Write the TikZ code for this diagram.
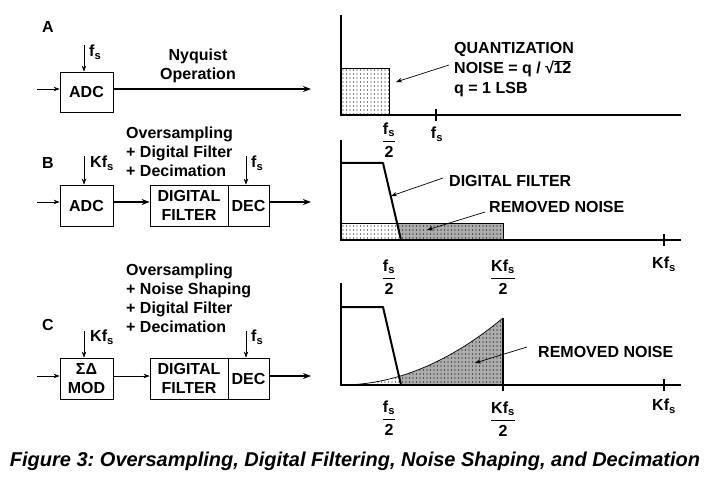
\documentclass[tikz,border=0pt]{standalone}
\usepackage{fontspec}
\setmainfont{Liberation Sans}
\usetikzlibrary{arrows.meta,patterns}
\frenchspacing
\pgfdeclarepatternformonly{sparsedots}{\pgfqpoint{-1pt}{-1pt}}{\pgfqpoint{1pt}{1pt}}{\pgfqpoint{3.5pt}{4pt}}{\pgfpathcircle{\pgfpointorigin}{0.55pt}\pgfusepath{fill}}
\newcommand\frc[2]{$\displaystyle{\hbox{#1}\above1.3pt\hbox{#2}}$}
\newcommand\fsub{f\textsubscript{s}}
\newcommand\Kfsub{Kf\textsubscript{s}}
\newcommand\rtwelve{\setbox0\hbox{√}\setbox2\hbox{12}\copy0\kern-0.6pt\rlap{\rule[\dimexpr\ht0-0.9pt]{\wd2}{0.9pt}}\box2}
\tikzset{
  lbl/.style={font=\fontsize{16}{19}\selectfont\bfseries, inner sep=0pt},
  blk/.style={draw, line width=0.8pt, lbl, align=center},
  thinarr/.style={line width=0.7pt, -{Stealth[length=6pt,width=4.5pt]}},
  thickarr/.style={line width=2pt, -{Stealth[length=8pt,width=6pt]}},
  axisline/.style={line width=1.2pt},
  filt/.style={line width=2pt, line join=round},
  lightnoise/.style={fill=white, postaction={pattern=sparsedots}},
  densenoise/.style={fill=black!32, postaction={pattern=sparsedots}},
}
\begin{document}
\begin{tikzpicture}[x=1pt,y=-1pt]
\useasboundingbox (0,0) rectangle (711,478);
% ---------------- Panel A ----------------
\node[lbl] (lA) at (48,27) {A};
\node[blk, minimum width=53pt, minimum height=40pt] (adcA) at (86.5,92) {ADC};
\coordinate (inA) at (37,89);
\coordinate (fsA) at (84,45);
\coordinate (outA) at (311,89);
\draw[thinarr] (inA) -- (inA -| adcA.west);
\draw[thinarr] (fsA) -- (fsA |- adcA.north);
\node[lbl, anchor=west] (fsAl) at (89,52) {\fsub};
\draw[thickarr] (outA -| adcA.east) -- (outA);
\node[lbl, align=center] (nyq) at (198,66) {Nyquist\\Operation};
% right A
\draw[line width=0.8pt, lightnoise] (341,68) rectangle (389,115);
\draw[axisline] (341,15) -- (341,115) -- (681,115);
\draw[axisline] (436,109) -- (436,121);
\node[lbl] (fhA) at (389,140) {\frc{\fsub}{2}};
\node[lbl] (fsAx) at (437,134) {\fsub};
\node[lbl, align=left, anchor=north west, font=\fontsize{16}{20}\selectfont\bfseries] (qn) at (454,42) {QUANTIZATION\\NOISE = q / \rtwelve\\q = 1 LSB};
\coordinate (qa1) at (449,65);
\coordinate (qa2) at (396,82);
\draw[thinarr] (qa1) -- (qa2);
% ---------------- Panel B ----------------
\node[lbl] (lB) at (48,163) {B};
\node[blk, minimum width=53pt, minimum height=41pt] (adcB) at (86.5,205.5) {ADC};
\node[blk, minimum width=78pt, minimum height=41pt] (dfB) at (189,205.5) {DIGITAL\\FILTER};
\node[blk, minimum width=41pt, minimum height=41pt] (decB) at (248.5,205.5) {DEC};
\coordinate (inB) at (37,202);
\coordinate (outB) at (311,202);
\coordinate (kB) at (84,156);
\coordinate (fB) at (246,156);
\draw[thinarr] (inB) -- (inB -| adcB.west);
\draw[thickarr] (inB -| adcB.east) -- (inB -| dfB.west);
\draw[thickarr] (outB -| decB.east) -- (outB);
\draw[thinarr] (kB) -- (kB |- adcB.north);
\draw[thinarr] (fB) -- (fB |- decB.north);
\node[lbl, anchor=west] (kBl) at (90,163) {\Kfsub};
\node[lbl, anchor=west] (fBl) at (251,163) {\fsub};
\node[lbl, align=left, anchor=north west] (txB) at (126,127) {Oversampling\\+ Digital Filter\\+ Decimation};
% right B
\fill[densenoise] (341,223) rectangle (503,240);
\begin{scope}
  \clip (341,163) -- (383,163) -- (401,240) -- (341,240) -- cycle;
  \fill[lightnoise] (341,223) rectangle (503,240);
\end{scope}
\draw[line width=0.8pt] (341,223) rectangle (503,240);
\draw[filt] (341,163) -- (383,163) -- (401,240);
\draw[axisline] (341,140) -- (341,240) -- (681,240);
\draw[axisline] (664,234) -- (664,246);
\node[lbl] (fhB) at (389,277) {\frc{\fsub}{2}};
\node[lbl] (khB) at (503,277) {\frc{\Kfsub}{2}};
\node[lbl] (kB2) at (664,264) {\Kfsub};
\node[lbl, anchor=west] (dfl) at (449,181) {DIGITAL FILTER};
\node[lbl, anchor=west] (rnB) at (489,207) {REMOVED NOISE};
\coordinate (da1) at (443,178);
\coordinate (da2) at (391,196);
\coordinate (ra1) at (485,212);
\coordinate (ra2) at (427,230);
\draw[thinarr] (da1) -- (da2);
\draw[thinarr] (ra1) -- (ra2);
% ---------------- Panel C ----------------
\node[lbl] (lC) at (48,325) {C};
\node[blk, minimum width=53pt, minimum height=41pt] (smC) at (86.5,378.5) {ΣΔ\\MOD};
\node[blk, minimum width=78pt, minimum height=41pt] (dfC) at (189,378.5) {DIGITAL\\FILTER};
\node[blk, minimum width=41pt, minimum height=41pt] (decC) at (248.5,378.5) {DEC};
\coordinate (inC) at (37,376);
\coordinate (outC) at (311,376);
\coordinate (kC) at (84,331);
\coordinate (fC) at (246,331);
\draw[thinarr] (inC) -- (inC -| smC.west);
\draw[thinarr] (inC -| smC.east) -- (inC -| dfC.west);
\draw[thickarr] (outC -| decC.east) -- (outC);
\draw[thinarr] (kC) -- (kC |- smC.north);
\draw[thinarr] (fC) -- (fC |- decC.north);
\node[lbl, anchor=west] (kCl) at (90,337) {\Kfsub};
\node[lbl, anchor=west] (fCl) at (251,337) {\fsub};
\node[lbl, align=left, anchor=north west] (txC) at (126,264) {Oversampling\\+ Noise Shaping\\+ Digital Filter\\+ Decimation};
% right C
\fill[densenoise] (341,385) .. controls (395,385) and (449,362.7) .. (503,318) -- (503,385) -- cycle;
\begin{scope}
  \clip (341,307) -- (383,307) -- (401,385) -- (341,385) -- cycle;
  \fill[lightnoise] (341,385) .. controls (395,385) and (449,362.7) .. (503,318) -- (503,385) -- cycle;
\end{scope}
\draw[line width=0.7pt] (341,385) .. controls (395,385) and (449,362.7) .. (503,318);
\draw[axisline] (503,318) -- (503,391);
\draw[filt] (341,307) -- (383,307) -- (401,385);
\draw[axisline] (341,283) -- (341,385) -- (681,385);
\draw[axisline] (664,379) -- (664,391);
\node[lbl] (fhC) at (389,418) {\frc{\fsub}{2}};
\node[lbl] (khC) at (503,419) {\frc{\Kfsub}{2}};
\node[lbl] (kC2) at (664,406) {\Kfsub};
\node[lbl, anchor=west] (rnC) at (538,352) {REMOVED NOISE};
\coordinate (rc1) at (527,347);
\coordinate (rc2) at (475,363);
\draw[thinarr] (rc1) -- (rc2);
% ---------------- Caption ----------------
\node[font=\fontsize{20}{24}\selectfont\bfseries\itshape, inner sep=0pt] (cap) at (355,461) {Figure 3: Oversampling, Digital Filtering, Noise Shaping, and Decimation};
\end{tikzpicture}
\end{document}
